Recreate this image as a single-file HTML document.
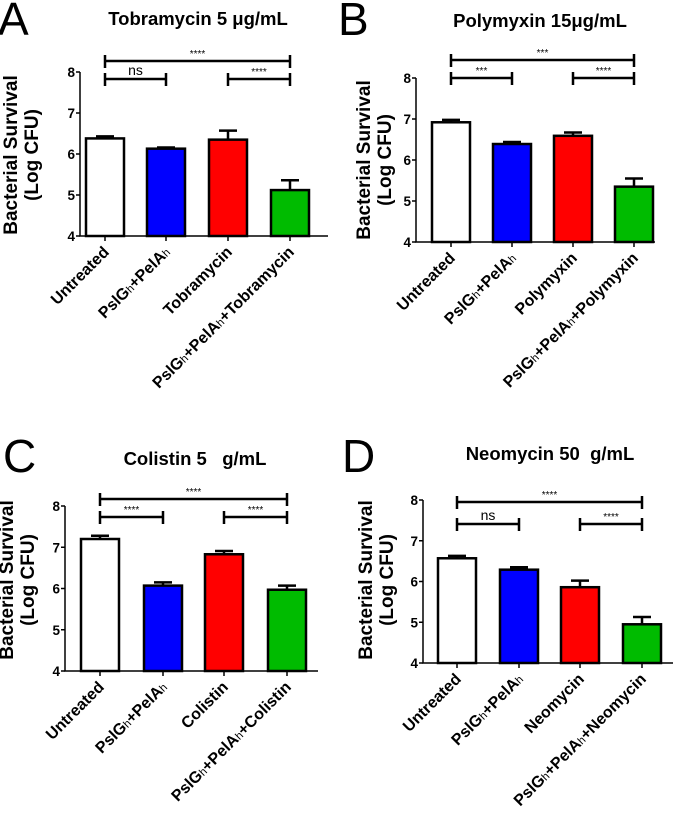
<!DOCTYPE html>
<html><head><meta charset="utf-8"><style>
body{margin:0;background:#fff}
svg{display:block;font-family:"Liberation Sans",Arial,sans-serif}
</style></head><body>
<svg id="fig" width="675" height="819" viewBox="0 0 675 819" xmlns="http://www.w3.org/2000/svg"></svg>
<script>
const panelLetters = ["A","B","C","D"];
const panelTitles = ["Tobramycin 5 \u03bcg/mL","Polymyxin 15\u03bcg/mL","Colistin 5\u00a0\u00a0\u00a0g/mL","Neomycin 50\u00a0\u00a0g/mL"];
const drugNames = ["Tobramycin","Polymyxin","Colistin","Neomycin"];
const valuesA = [6.38, 6.13, 6.35, 5.12];
const errorsA = [0.05, 0.03, 0.22, 0.24];
const valuesB = [6.92, 6.39, 6.59, 5.35];
const errorsB = [0.06, 0.05, 0.08, 0.20];
const valuesC = [7.20, 6.07, 6.83, 5.97];
const errorsC = [0.08, 0.08, 0.08, 0.10];
const valuesD = [6.57, 6.29, 5.86, 4.95];
const errorsD = [0.06, 0.06, 0.16, 0.18];
const sigTop = ["****","***","****","****"];
const sigLeft = ["ns","***","****","ns"];
const sigRight = ["****","****","****","****"];
const yTicks = [4,5,6,7,8];
const barColors = ["#ffffff","#0000ff","#ff0000","#00bb00"];

const layouts = [
 {ax:80, y8:72, y4:236, ticks:[105,166,228,290], axEnd:328, bt:61, bl:79, tx:198, ty:25, lx:-2, ly:35, labx:10, laby:155},
 {ax:416, y8:78, y4:242, ticks:[451,512,573,634], axEnd:655, bt:60, bl:78, tx:540, ty:27, lx:338, ly:35, labx:363, laby:160},
 {ax:65, y8:506, y4:671, ticks:[100,163,224,287], axEnd:318, bt:499, bl:517, tx:195, ty:465, lx:3, ly:472, labx:6, laby:580},
 {ax:423, y8:500, y4:663, ticks:[457,519,580,642], axEnd:673, bt:502, bl:524, tx:550, ty:460, lx:342, ly:472, labx:365, laby:580}
];
const allValues = [valuesA,valuesB,valuesC,valuesD];
const allErrors = [errorsA,errorsB,errorsC,errorsD];
const NS = "http://www.w3.org/2000/svg";
const svg = document.getElementById("fig");
function mk(tag, attrs, parent){const e=document.createElementNS(NS,tag);for(const k in attrs)e.setAttribute(k,attrs[k]);(parent||svg).appendChild(e);return e;}

layouts.forEach((L,p)=>{
  const g = mk("g",{});
  
  
  const y = v => L.y4 + (v-4)*(L.y8-L.y4)/4;
  const letter = mk("text",{x:L.lx,y:L.ly,"font-size":46,fill:"#000"},g);
  letter.textContent = panelLetters[p];
  
  
  const title = mk("text",{x:L.tx,y:L.ty,"font-size":18.5,"font-weight":"bold","text-anchor":"middle"},g);
  title.textContent = panelTitles[p];
  
  
  const yl = mk("text",{transform:`translate(${L.labx+7},${L.laby}) rotate(-90)`,"font-size":19,"font-weight":"bold","text-anchor":"middle"},g);
  const t1 = mk("tspan",{x:0,dy:0},yl); t1.textContent="Bacterial Survival";
  const t2 = mk("tspan",{x:0,dy:21},yl); t2.textContent="(Log CFU)";
  
  
  const axes = mk("path",{d:`M${L.ax},${y(8)}V${L.y4}H${L.axEnd}`,stroke:"#000","stroke-width":1.5,fill:"none"},g);
  
  
  yTicks.forEach(t=>{
    mk("line",{x1:L.ax-4,x2:L.ax,y1:y(t),y2:y(t),stroke:"#000","stroke-width":1.5},g);
    const tl = mk("text",{x:L.ax-5,y:y(t)+5,"font-size":13.5,"font-weight":"bold","text-anchor":"end"},g);
    tl.textContent = t;
    
    
  });
  const vals = allValues[p], errs = allErrors[p];
  L.ticks.forEach((cx,i)=>{
    mk("line",{x1:cx,x2:cx,y1:L.y4,y2:L.y4+5,stroke:"#000","stroke-width":1.5},g);
    const v = vals[i], e = errs[i];
    const eb = mk("path",{d:`M${cx},${y(v)}V${y(v+e)}M${cx-9},${y(v+e)}H${cx+9}`,stroke:"#000","stroke-width":2.5,fill:"none"},g);
    
    
    const bar = mk("rect",{x:cx-19,y:y(v),width:38,height:L.y4-y(v),fill:barColors[i],stroke:"#000","stroke-width":2.5},g);
    
    
    const lab = mk("text",{transform:`translate(${cx+5},${L.y4+17}) rotate(-45)`,"font-size":16,"font-weight":"bold","text-anchor":"end"},g);
    const parts = i===0?[["Untreated",0]]:i===1?[["PslG",0],["h",1],["+PelA",0],["h",1]]:i===2?[[drugNames[p],0]]:[["PslG",0],["h",1],["+PelA",0],["h",1],["+"+drugNames[p],0]];
    parts.forEach(([s,sub])=>{const ts=mk("tspan",sub?{"font-size":11,"font-weight":"normal"}:{},lab);ts.textContent=s;});
    
    
  });
  const t = L.ticks;
  const brs = [[t[0],t[3],L.bt,sigTop[p]],[t[0],t[1],L.bl,sigLeft[p]],[t[2],t[3],L.bl,sigRight[p]]];
  brs.forEach(([x1,x2,by,lbl],k)=>{
    const b = mk("path",{d:`M${x1},${by-6}V${by+7}M${x1},${by}H${x2}M${x2},${by-6}V${by+7}`,stroke:"#000","stroke-width":2.5,fill:"none"},g);
    
    
    const st = mk("text",{x:(x1+x2)/2,y:by-4,"font-size":lbl==="ns"?14:10,"text-anchor":"middle"},g);
    st.textContent = lbl;
    
    
  });
});
</script>
</body></html>
